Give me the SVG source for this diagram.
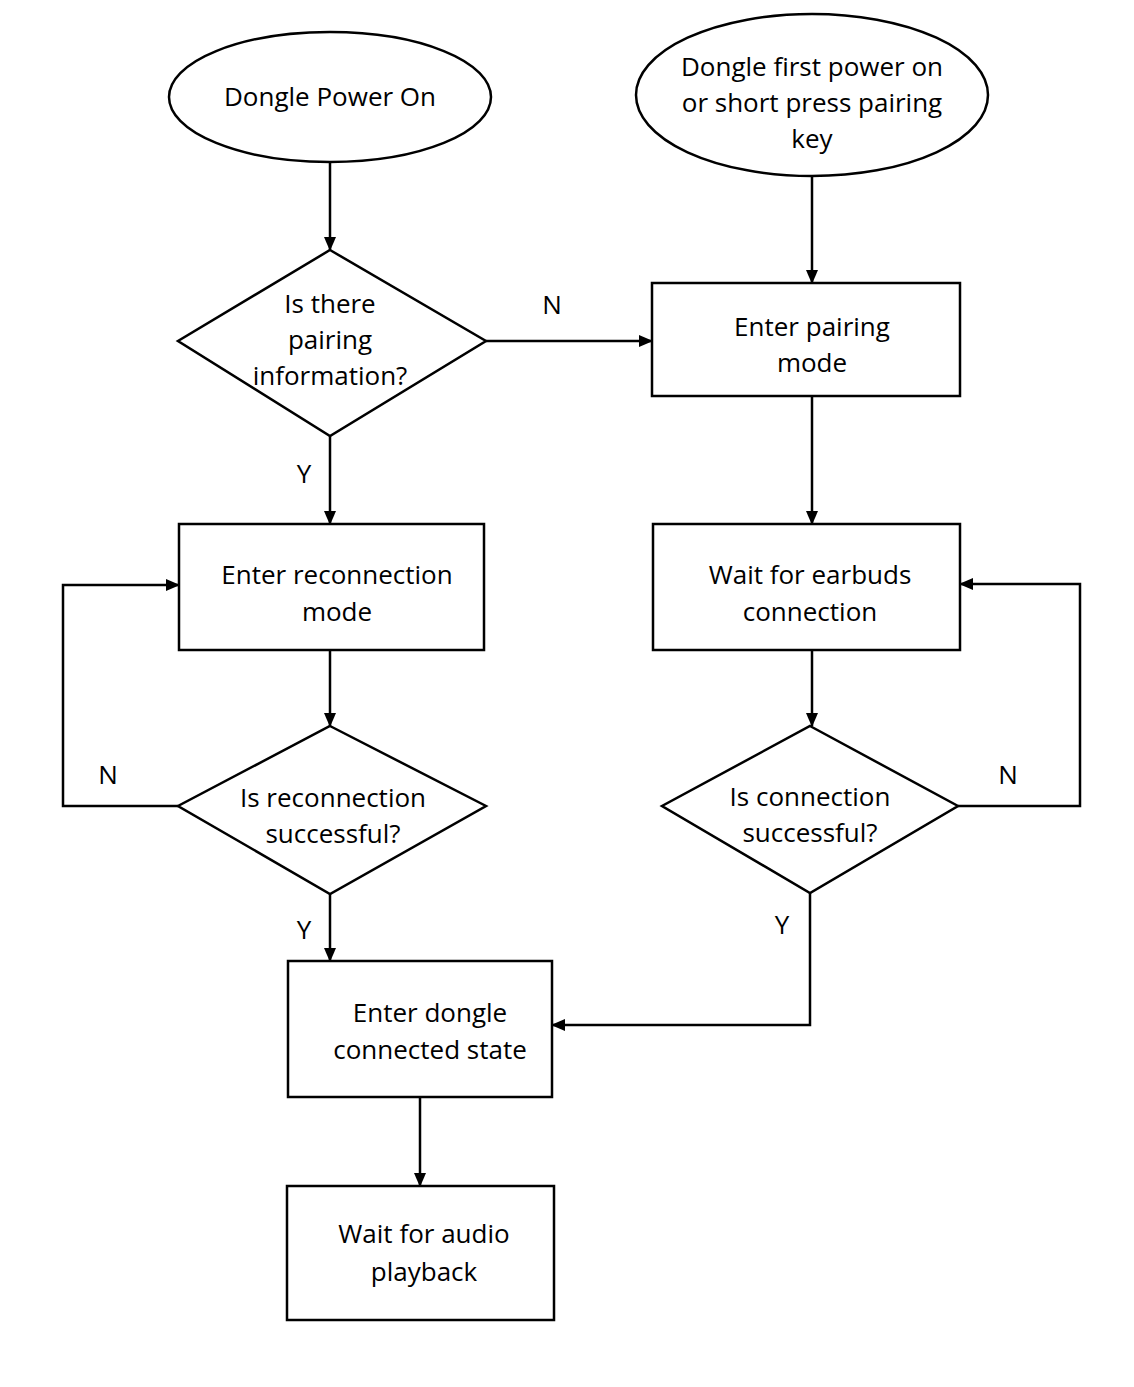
<svg xmlns="http://www.w3.org/2000/svg" width="1134" height="1387" viewBox="0 0 1134 1387">
<defs>
<marker id="ah" markerWidth="14" markerHeight="12" refX="13" refY="6" orient="auto" markerUnits="userSpaceOnUse"><path d="M0,0 L14,6 L0,12 z" fill="#000"/></marker>
<style>
.s{fill:#fff;stroke:#000;stroke-width:2.5}
.c{fill:none;stroke:#000;stroke-width:2.5;marker-end:url(#ah)}
text{font-family:"Open Sans","Noto Sans",sans-serif;font-size:26px;fill:#000;text-anchor:middle}
</style>
</defs>
<rect width="1134" height="1387" fill="#fff"/>
<g id="connectors">
<path class="c" d="M330,162 V250"/>
<path class="c" d="M486,341 H652"/>
<path class="c" d="M812,176 V283"/>
<path class="c" d="M812,396 V524"/>
<path class="c" d="M812,650 V726"/>
<path class="c" d="M958,806 H1080 V584 H960"/>
<path class="c" d="M810,893 V1025 H552"/>
<path class="c" d="M330,436 V524"/>
<path class="c" d="M330,650 V726"/>
<path class="c" d="M178,806 H63 V585 H179"/>
<path class="c" d="M330,894 V961"/>
<path class="c" d="M420,1097 V1186"/>
<text x="552" y="314">N</text>
<text x="1008" y="784">N</text>
<text x="782" y="934">Y</text>
<text x="304" y="483">Y</text>
<text x="108" y="784">N</text>
<text x="304" y="939">Y</text>
</g>
<g id="start1"><ellipse class="s" cx="330" cy="97" rx="161" ry="65"/><text x="330" y="106">Dongle Power On</text></g>
<g id="start2"><ellipse class="s" cx="812" cy="95" rx="176" ry="81"/><text x="812" y="76">Dongle first power on</text><text x="812" y="112">or short press pairing</text><text x="812" y="148">key</text></g>
<g id="d1"><polygon class="s" points="330,250 486,341 330,436 178,341"/><text x="330" y="313">Is there</text><text x="330" y="349">pairing</text><text x="330" y="385">information?</text></g>
<g id="pairing"><rect class="s" x="652" y="283" width="308" height="113"/><text x="812" y="336">Enter pairing</text><text x="812" y="372">mode</text></g>
<g id="wait"><rect class="s" x="653" y="524" width="307" height="126"/><text x="810" y="584">Wait for earbuds</text><text x="810" y="621">connection</text></g>
<g id="d2"><polygon class="s" points="810,726 958,806 810,893 662,806"/><text x="810" y="806">Is connection</text><text x="810" y="842">successful?</text></g>
<g id="reconn"><rect class="s" x="179" y="524" width="305" height="126"/><text x="337" y="584">Enter reconnection</text><text x="337" y="621">mode</text></g>
<g id="d3"><polygon class="s" points="330,726 486,806 330,894 178,806"/><text x="333" y="807">Is reconnection</text><text x="333" y="843">successful?</text></g>
<g id="connected"><rect class="s" x="288" y="961" width="264" height="136"/><text x="430" y="1022">Enter dongle</text><text x="430" y="1059">connected state</text></g>
<g id="audio"><rect class="s" x="287" y="1186" width="267" height="134"/><text x="424" y="1243">Wait for audio</text><text x="424" y="1281">playback</text></g>
</svg>
